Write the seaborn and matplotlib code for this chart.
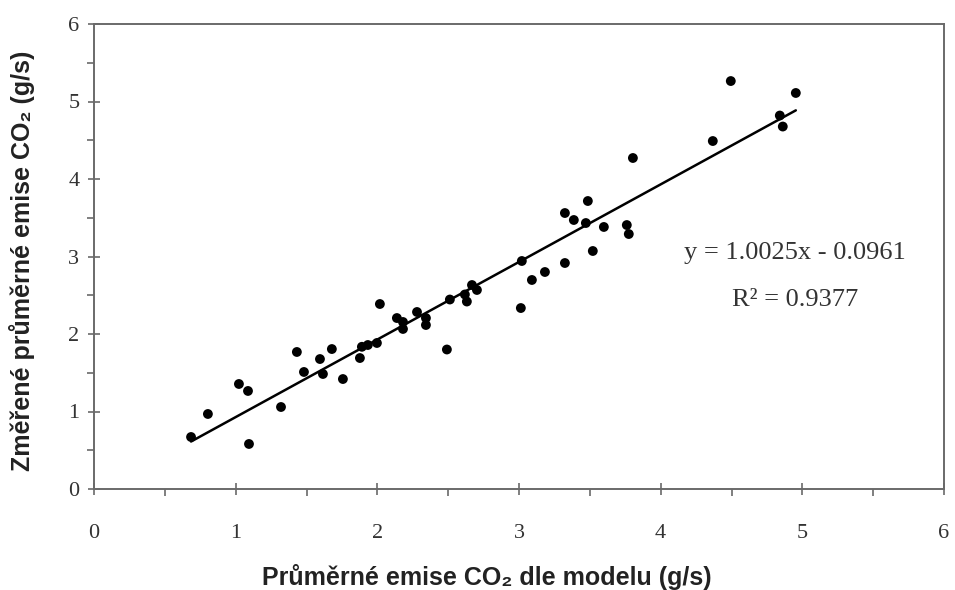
import numpy as np
import pandas as pd
import matplotlib
matplotlib.use("Agg")
import matplotlib.pyplot as plt
import seaborn as sns
from matplotlib.ticker import MultipleLocator

# Data
model_x = [0.685, 0.804, 1.023, 1.087, 1.094, 1.320, 1.432, 1.482, 1.595, 1.616,
           1.679, 1.757, 1.877, 1.891, 1.933, 1.997, 2.018, 2.138, 2.181, 2.181,
           2.280, 2.343, 2.343, 2.491, 2.512, 2.618, 2.632, 2.668, 2.703, 3.020,
           3.013, 3.091, 3.183, 3.324, 3.521, 3.324, 3.387, 3.472, 3.486, 3.599,
           3.761, 3.775, 3.804, 4.368, 4.495, 4.841, 4.862, 4.954]
measured_y = [0.671, 0.968, 1.355, 1.265, 0.581, 1.058, 1.768, 1.510, 1.677, 1.484,
              1.806, 1.419, 1.690, 1.835, 1.858, 1.884, 2.387, 2.206, 2.155, 2.065,
              2.284, 2.206, 2.116, 1.800, 2.445, 2.510, 2.419, 2.632, 2.568, 2.942,
              2.335, 2.697, 2.800, 2.916, 3.071, 3.561, 3.471, 3.432, 3.716, 3.381,
              3.406, 3.290, 4.271, 4.490, 5.264, 4.819, 4.677, 5.110]
tick_values = [0, 1, 2, 3, 4, 5, 6]
equation_text = "y = 1.0025x - 0.0961"
r2_text = "R² = 0.9377"
xlabel = "Průměrné emise CO₂ dle modelu (g/s)"
ylabel = "Změřené průměrné emise CO₂ (g/s)"

df = pd.DataFrame({"x": model_x, "y": measured_y})

sns.set_theme(style="white")
plt.rcParams["font.family"] = ["Liberation Serif", "DejaVu Serif"]

fig = plt.figure(figsize=(9.55, 5.9), dpi=100)
ax = fig.add_axes([94/955, 1-489/590, 850/955, 465/590])

sns.scatterplot(data=df, x="x", y="y", color="black", s=50, edgecolor="none", ax=ax, zorder=3)
sns.regplot(data=df, x="x", y="y", scatter=False, ci=None, truncate=True,
            line_kws={"color": "black", "lw": 1.8}, ax=ax)

ax.set_xlim(0, 6)
ax.set_ylim(0, 6)
ax.set_xticks(tick_values)
ax.set_yticks(tick_values)
ax.xaxis.set_minor_locator(MultipleLocator(0.5))
ax.yaxis.set_minor_locator(MultipleLocator(0.5))

for s in ax.spines.values():
    s.set_visible(True)
    s.set_color("#6a6a6a")
    s.set_linewidth(1.4)

ax.tick_params(axis="both", which="major", direction="inout", length=9, width=1.2,
               color="#6a6a6a", labelsize=16, labelcolor="#333333")
ax.tick_params(axis="both", which="minor", direction="out", length=5, width=1.2,
               color="#6a6a6a")
ax.tick_params(axis="x", which="major", pad=21)
ax.tick_params(axis="y", which="major", pad=6)
ax.tick_params(axis="both", which="both", bottom=True, left=True)

lab_font = dict(family=["Liberation Sans", "DejaVu Sans"], weight="bold", size=18, color="#222222")
ax.set_xlabel(xlabel, va="center", **lab_font)
ax.set_ylabel(ylabel, va="center", **lab_font)
ax.xaxis.set_label_coords(0.462, -0.19)
ax.yaxis.set_label_coords(-0.085, 0.49)

ax.text(4.95, 3.05, equation_text, ha="center", va="center", fontsize=19, color="#333333")
ax.text(4.95, 2.44, r2_text, ha="center", va="center", fontsize=19, color="#333333")

fig.savefig("out.png", dpi=100, facecolor="white")
